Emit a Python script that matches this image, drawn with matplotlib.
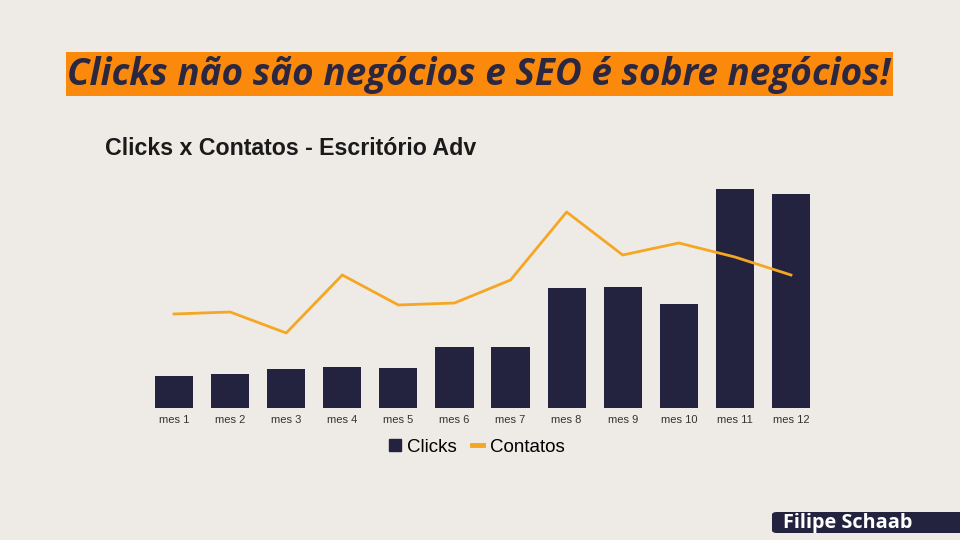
import matplotlib
matplotlib.use("Agg")
import matplotlib.pyplot as plt
from matplotlib.lines import Line2D
from matplotlib.patches import Rectangle, FancyBboxPatch

months = ["mes 1", "mes 2", "mes 3", "mes 4", "mes 5", "mes 6",
          "mes 7", "mes 8", "mes 9", "mes 10", "mes 11", "mes 12"]
clicks = [32, 34, 39, 41, 40, 61, 61, 120, 121, 104, 219, 214]
contatos = [94, 96, 75, 133, 103, 105, 128, 196, 153, 165, 151, 133]

BG = "#EEEBE6"
NAVY = "#23233F"
ORANGE_LINE = "#F5A623"
ORANGE_BOX = "#FB8A0C"

W, H = 960, 540
fig = plt.figure(figsize=(9.6, 5.4), dpi=100, facecolor=BG)
fig.canvas.draw()
r = fig.canvas.get_renderer()


def fit_width(t, target):
    bb = t.get_window_extent(r)
    t.set_fontsize(t.get_fontsize() * target / bb.width)


# header box
fig.patches.append(Rectangle((66 / W, 1 - 96 / H), (893 - 66) / W, 44 / H,
                             transform=fig.transFigure, facecolor=ORANGE_BOX,
                             edgecolor="none", zorder=0))
title = fig.text(479 / W, 1 - 75 / H, "Clicks não são negócios e SEO é sobre negócios!",
                 ha="center", va="center", fontsize=24, fontfamily="Open Sans",
                 fontweight="bold", fontstyle="italic", color="#2B2740")
fit_width(title, 822)

# subtitle
sub = fig.text(105 / W, 1 - 148 / H, "Clicks x Contatos - Escritório Adv",
               ha="left", va="center", fontsize=16, fontfamily="Liberation Sans",
               fontweight="bold", color="#1A1A1A")
fit_width(sub, 371)

# chart
ax = fig.add_axes([146 / W, 1 - 408 / H, 673 / W, 220 / H])
ax.set_facecolor("none")
x = list(range(len(months)))
ax.bar(x, clicks, width=0.68, color=NAVY, zorder=2)
ax.plot(x, contatos, color=ORANGE_LINE, linewidth=2, zorder=3)
ax.set_xlim(-0.5, 11.5)
ax.set_ylim(0, 220)
ax.set_xticks(x)
ax.set_xticklabels(months, fontsize=8, fontfamily="Liberation Sans", color="#333333")
ax.tick_params(axis="x", length=0, pad=5)
ax.set_yticks([])
for s in ax.spines.values():
    s.set_visible(False)

handles = [Line2D([], [], marker="s", linestyle="none", color=NAVY, markersize=8.5),
           Line2D([], [], color=ORANGE_LINE, linewidth=3.5)]
fig.legend(handles, ["Clicks", "Contatos"], loc="center", bbox_to_anchor=(477 / W, 1 - 447 / H),
           ncol=2, frameon=False, handlelength=0.6, handletextpad=0.35, columnspacing=0.8,
           prop={"family": "Liberation Sans", "size": 13.5})

# footer
fig.patches.append(FancyBboxPatch((772 / W, 1 - 533 / H), 200 / W, 21 / H,
                                  boxstyle="round,pad=0,rounding_size=0.005",
                                  transform=fig.transFigure, facecolor=NAVY,
                                  edgecolor="none", zorder=0))
foot = fig.text(783 / W, 1 - 523 / H, "Filipe Schaab", ha="left", va="center",
                fontsize=12, fontfamily="Open Sans", fontweight="bold", color="white")
fit_width(foot, 129)

fig.savefig("out.png", dpi=100, facecolor=BG)
